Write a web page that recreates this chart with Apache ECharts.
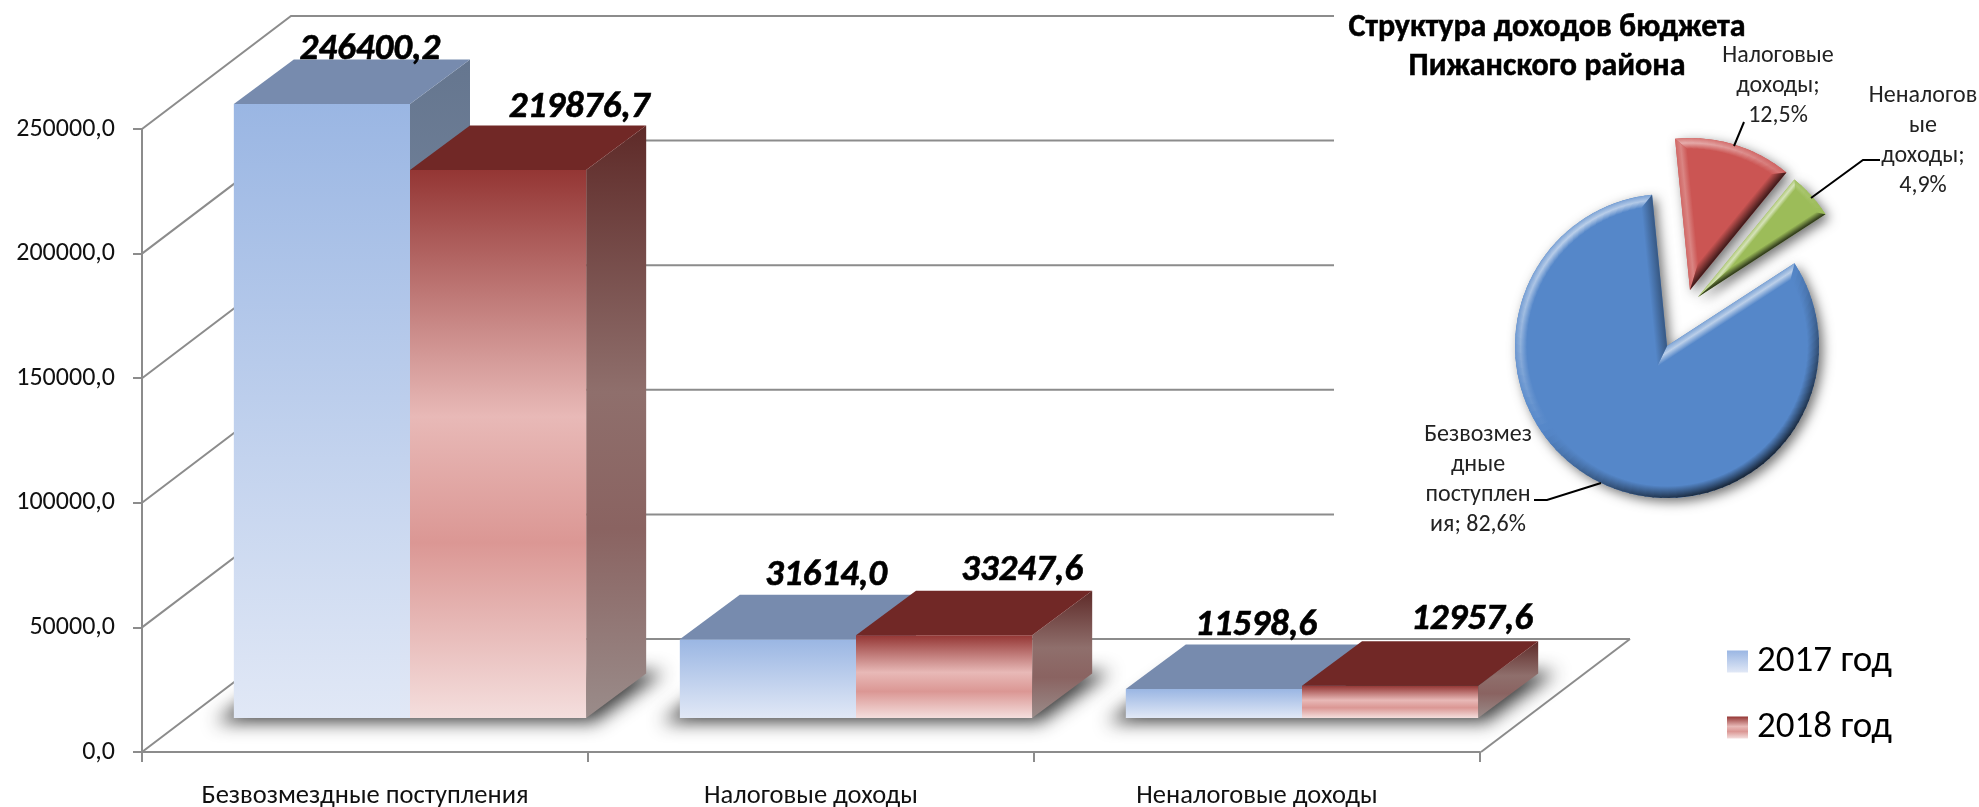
<!DOCTYPE html>
<html>
<head>
<meta charset="UTF-8">
<title>Доходы бюджета</title>
<script src="https://cdn.jsdelivr.net/npm/echarts@6/dist/echarts.min.js"></script>
<style>html,body{margin:0;background:#fff}</style>
</head>
<body>
	<div id="main" style="width:1979px;height:807px;"></div>
	<script type="text/javascript">
	var categories = ['Безвозмездные поступления', 'Налоговые доходы', 'Неналоговые доходы'];
	var values2017 = [246400.2, 31614.0, 11598.6];
	var values2018 = [219876.7, 33247.6, 12957.6];
	var yTicks = [0, 50000, 100000, 150000, 200000, 250000];
	var pieLabels = ['Безвозмез\nдные\nпоступлен\nия; ', 'Налоговые\nдоходы;\n', 'Неналогов\nые\nдоходы;\n'];
	var pieValues = [82.6, 12.5, 4.9];

	var FONT = 'Carlito, Calibri, Lato, "Noto Sans", sans-serif';
	var LINE = '#8c8c8c';
	// perspective of the fake 3d box
	var WALL = [149, -113], BAR_OFF = [45, -34], BAR_DEPTH = [60, -44.5];
	var fmt = function (v, d) { return v.toFixed(d).replace('.', ','); };
	var vgrad = function (stops) {
		return new echarts.graphic.LinearGradient(0, 0, 0, 1, stops.map(function (s) { return { offset: s[0], color: s[1] }; }));
	};

	// label placement relative to the bar's front-centre / back-top
	var labelShift2017 = [[48, -10], [58, -19], [42, -19]];
	var labelShift2018 = [[81, -18], [78, -20], [82, -21]];

	function poly(pts, fill, z2) {
		return { type: 'polygon', shape: { points: pts }, style: { fill: fill }, z2: z2 || 0 };
	}

	function barSeries(name, data, side, front, top, sideFace, shift) {
		return {
			name: name, type: 'custom', z: 3, data: data.map(function (v, i) { return [i, v]; }),
			itemStyle: { color: vgrad(front) },
			renderItem: function (params, api) {
				var i = api.value(0), p = api.coord([i, api.value(1)]), b = api.coord([i, 0]);
				var w = api.size([1, 0])[0] * 0.395;
				var x0 = p[0] + (side - 1) * w + BAR_OFF[0], x1 = x0 + w;
				var yt = p[1] + BAR_OFF[1], yb = b[1] + BAR_OFF[1];
				var dx = BAR_DEPTH[0], dy = BAR_DEPTH[1];
				return {
					type: 'group',
					children: [
						poly([[x1, yt], [x1 + dx, yt + dy], [x1 + dx, yb + dy], [x1, yb]], vgrad(sideFace)),
						poly([[x0, yb], [x0, yt], [x1, yt], [x1, yb]], vgrad(front)),
						poly([[x0, yt], [x0 + dx, yt + dy], [x1 + dx, yt + dy], [x1, yt]], top),
						{
							type: 'text', z2: 5,
							x: (x0 + x1) / 2 + shift[i][0], y: yt + dy + shift[i][1],
							style: {
								text: fmt(api.value(1), 1), fill: '#000', align: 'center', verticalAlign: 'middle',
								stroke: '#000', lineWidth: 0.6,
								font: 'italic 900 37px ' + FONT
							}
						}
					]
				};
			}
		};
	}

	// walls and floor drawn behind the bars
	var wallSeries = {
		type: 'custom', silent: true, z: 1, data: yTicks.map(function (v, i) { return [i, v]; }),
		renderItem: function (params, api) {
			var v = api.value(1), p = api.coord([0, v]);
			p[0] -= api.size([1, 0])[0] / 2;
			var back = [p[0] + WALL[0], p[1] + WALL[1]];
			var end = v === 0 ? 1630 : 1334;
			var st = { stroke: LINE, lineWidth: 2, fill: null };
			var ch = [
				{ type: 'polyline', shape: { points: [p, back, [end, back[1]]] }, style: st }
			];
			if (v === 0) ch.push({ type: 'line', shape: { x1: end, y1: back[1], x2: end - WALL[0], y2: p[1] }, style: st });
			return { type: 'group', children: ch };
		}
	};

	// soft floor shadow, shape is kept off canvas so only its blur shows
	var floorShadow = {
		type: 'custom', silent: true, z: 2, data: categories.map(function (c, i) { return [i]; }),
		renderItem: function (params, api) {
			var i = api.value(0), b = api.coord([i, 0]);
			var w = api.size([1, 0])[0] * 0.395;
			var x0 = b[0] - w + BAR_OFF[0] - 18, x1 = b[0] + w + BAR_OFF[0] - 8, y = b[1] + BAR_OFF[1] + 4;
			var far = 3000;
			return {
				type: 'polygon',
				shape: { points: [[x0 - far, y], [x0 + 68 - far, y - 50], [x1 + 86 - far, y - 50], [x1 + 16 - far, y]] },
				style: { fill: '#000', shadowColor: 'rgba(40,40,40,0.9)', shadowBlur: 18, shadowOffsetX: far, shadowOffsetY: 0 }
			};
		}
	};

	// exploded pie, each slice is its own pie so it can sit at its own centre
	var pieCenters = [[1667, 346], [1690, 290], [1698, 297]];
	var pieColors = ['#5587c9', '#cb5553', '#9cbc59'];
	var pieBevel = [12, 11, 7];
	var PIE_R = 152, PIE_START = 57;
	var pieLabelPos = [[1478, 480], [1778, 86], [1923, 141]];
	var pieStarts = [], acc = PIE_START;
	pieValues.forEach(function (v) { pieStarts.push(acc); acc += v * 3.6; });

	var pieSeries = pieValues.map(function (v, i) {
		return {
			type: 'pie', silent: true, z: 4, radius: PIE_R, center: pieCenters[i],
			startAngle: 90 - pieStarts[i], clockwise: true, animation: false,
			labelLine: { show: false },
			labelLayout: { x: pieLabelPos[i][0], y: pieLabelPos[i][1], align: 'center', verticalAlign: 'middle' },
			label: {
				position: 'outside', color: '#222', fontFamily: FONT, fontSize: 24, lineHeight: 30, align: 'center',
				formatter: function () { return pieLabels[i] + fmt(v, 1) + '%'; }
			},
			data: [
				{ value: v, itemStyle: { color: pieColors[i], shadowColor: 'rgba(0,0,0,0.55)', shadowBlur: 12, shadowOffsetX: 4, shadowOffsetY: 4 } },
				{ value: 100 - v, itemStyle: { color: 'rgba(0,0,0,0)' }, label: { show: false } }
			]
		};
	});

	function mix(hex, target, t) {
		var c = echarts.color.parse(hex);
		return 'rgb(' + [0, 1, 2].map(function (k) { return Math.round(c[k] + (target - c[k]) * t); }).join(',') + ')';
	}
	function edgeStops(hex, nx, ny) {
		var d = nx * -0.55 + ny * -0.83;
		if (d > 0) {
			// lit side, the highlight sits in the middle of the rim
			return [
				{ offset: 0, color: mix(hex, 255, d * 0.25) },
				{ offset: 0.45, color: mix(hex, 255, d * 0.6) },
				{ offset: 1, color: hex }
			];
		}
		return [{ offset: 0, color: mix(hex, 0, -d * 0.75) }, { offset: 1, color: hex }];
	}
	function bandQuad(a, b, c, d, nx, ny, hex, w) {
		// a-b outer edge, c-d inner edge
		var mx = (a[0] + b[0]) / 2, my = (a[1] + b[1]) / 2;
		return {
			type: 'polygon', shape: { points: [a, b, c, d] },
			style: { fill: new echarts.graphic.LinearGradient(mx, my, mx - nx * w, my - ny * w, edgeStops(hex, nx, ny), true) }
		};
	}

	// rim of each slice, shaded by which way its edge faces
	var bevelSeries = {
		type: 'custom', silent: true, z: 5, coordinateSystem: 'none', data: pieValues.map(function (v, i) { return [i]; }),
		renderItem: function (params, api) {
			var i = api.value(0), hex = pieColors[i], w = pieBevel[i], c = pieCenters[i];
			var rad = Math.PI / 180;
			var a0 = pieStarts[i] * rad, a1 = a0 + pieValues[i] * 3.6 * rad, half = (a1 - a0) / 2, mid = a0 + half;
			var at = function (r, a) { return [c[0] + r * Math.sin(a), c[1] - r * Math.cos(a)]; };
			var ri = PIE_R - w, de = Math.asin(w / ri);
			var vi = at(w / Math.sin(half), mid);
			var children = [];
			var steps = Math.ceil((a1 - a0) / (3 * rad));
			for (var s = 0; s < steps; s++) {
				var t0 = s / steps, t1 = (s + 1.25) / steps;
				t1 = Math.min(t1, 1);
				var o0 = a0 + (a1 - a0) * t0, o1 = a0 + (a1 - a0) * t1;
				var n0 = a0 + de + (a1 - a0 - 2 * de) * t0, n1 = a0 + de + (a1 - a0 - 2 * de) * t1;
				var am = (o0 + o1) / 2;
				children.push(bandQuad(at(PIE_R, o0), at(PIE_R, o1), at(ri, n1), at(ri, n0), Math.sin(am), -Math.cos(am), hex, w));
			}
			children.push(bandQuad(c, at(PIE_R, a0), at(ri, a0 + de), vi, -Math.cos(a0), -Math.sin(a0), hex, w));
			children.push(bandQuad(at(PIE_R, a1), c, vi, at(ri, a1 - de), Math.cos(a1), Math.sin(a1), hex, w));
			return { type: 'group', children: children };
		}
	};

	var series = [wallSeries, floorShadow,
		barSeries('2017 год', values2017, 0,
			[[0, '#9ab6e3'], [1, '#e1e8f6']], '#778bae', [[0, '#65768f'], [1, '#8f9bb0']], labelShift2017),
		barSeries('2018 год', values2018, 1,
			[[0, '#943634'], [0.45, '#e8b9b7'], [0.68, '#db9794'], [1, '#f4dedd']], '#712826',
			[[0, '#5e2a28'], [0.45, '#8f6f6c'], [0.68, '#8a6361'], [1, '#9a8c8a']], labelShift2018)
	].concat(pieSeries, [bevelSeries]);

	var myChart = echarts.init(document.getElementById('main'));
	myChart.setOption({
		animation: false,
		backgroundColor: '#fff',
		title: {
			text: 'Структура доходов бюджета\nПижанского района', left: 1542, top: 3, textAlign: 'center',
			textStyle: { fontFamily: FONT, fontSize: 32, fontWeight: 'bold', color: '#000', lineHeight: 39, textBorderColor: '#000', textBorderWidth: 0.5 }
		},
		legend: {
			data: ['2017 год', '2018 год'], orient: 'vertical', left: 1722, top: 638, icon: 'rect',
			itemWidth: 21, itemHeight: 22, itemGap: 29, selectedMode: false,
			textStyle: { fontFamily: FONT, fontSize: 37, color: '#000', padding: [0, 0, 0, 4] }
		},
		grid: { left: 142, top: 129, width: 1338, height: 623, outerBoundsMode: 'none' },
		xAxis: {
			type: 'category', data: categories, z: 1,
			axisLine: { lineStyle: { color: LINE, width: 2 } },
			axisTick: { show: true, length: 10, lineStyle: { color: LINE, width: 2 } },
			axisLabel: { margin: 31, color: '#111', fontFamily: FONT, fontSize: 26.5 }
		},
		yAxis: {
			type: 'value', min: 0, max: 250000, interval: 50000, splitLine: { show: false },
			axisLine: { show: true, lineStyle: { color: LINE, width: 2 } },
			axisTick: { show: true, length: 9, lineStyle: { color: LINE, width: 2 } },
			axisLabel: { margin: 27, color: '#111', fontFamily: FONT, fontSize: 26, padding: [3, 0, 0, 0], formatter: function (v) { return fmt(v, 1); } }
		},
		graphic: [
			{ type: 'polyline', z: 20, shape: { points: [[1744, 122], [1734, 146]] }, style: { stroke: '#000', lineWidth: 2, fill: null } },
			{ type: 'polyline', z: 20, shape: { points: [[1880, 160], [1863, 160], [1811, 198]] }, style: { stroke: '#000', lineWidth: 2, fill: null } },
			{ type: 'polyline', z: 20, shape: { points: [[1534, 500], [1547, 500], [1601, 483]] }, style: { stroke: '#000', lineWidth: 2, fill: null } }
		],
		series: series
	});
	</script>
</body>
</html>
